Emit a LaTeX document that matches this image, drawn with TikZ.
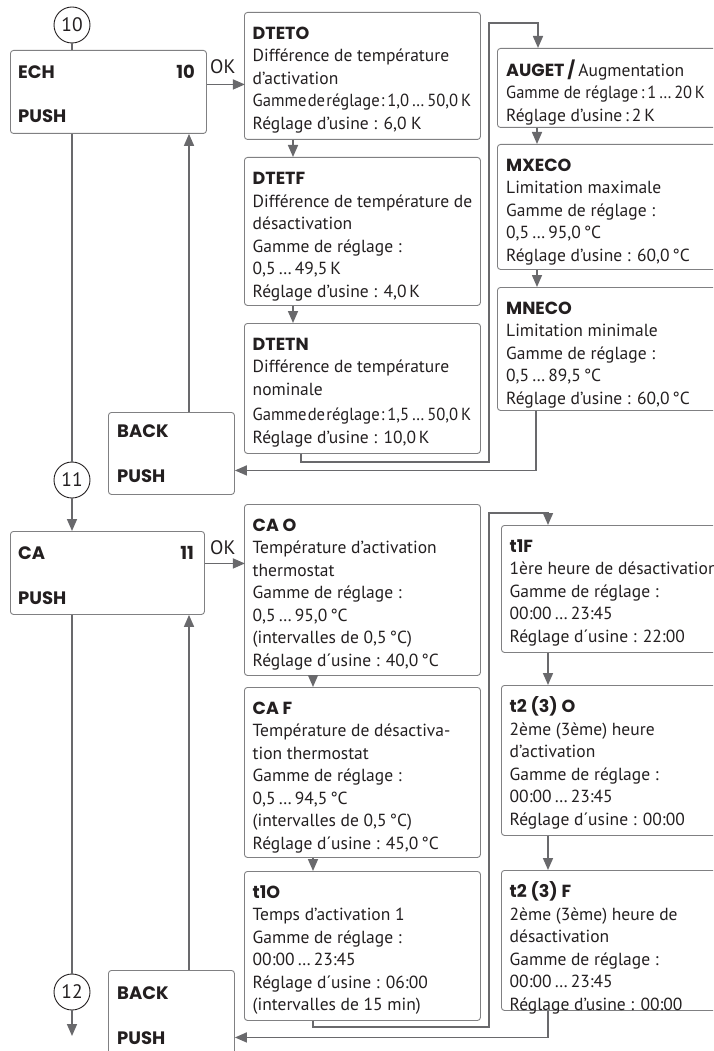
\documentclass[tikz,border=0pt]{standalone}
\usepackage{fontspec}
\usepackage{graphicx}
\setmainfont{PT Sans}
\newfontfamily\heavyfont{Poppins}
\usetikzlibrary{arrows.meta}
\definecolor{linegray}{RGB}{105,105,108}
\definecolor{boxgray}{RGB}{128,128,130}
\definecolor{textblack}{RGB}{35,31,32}
\newcommand{\squeezed}[1]{\scalebox{0.95}[1]{\spaceskip=1.3pt\relax #1}}
\newcommand{\hd}[1]{{\heavyfont\bfseries\fontsize{17.5pt}{22.5pt}\selectfont #1}}
\tikzset{
  panel/.style={draw=boxgray, line width=0.9pt, rounded corners=3pt, anchor=north west, inner sep=0pt},
  txt/.style={anchor=north west, align=left, inner sep=0pt, font=\fontsize{17.5pt}{22.5pt}\selectfont, text=textblack},
  lbl/.style={inner sep=0pt, font=\heavyfont\bfseries\fontsize{18pt}{22.5pt}\selectfont, text=textblack},
  oklbl/.style={inner sep=0pt, anchor=base west, font=\fontsize{19.5pt}{22.5pt}\selectfont, text=textblack},
  circ/.style={circle, draw=textblack, line width=0.9pt, minimum size=36pt, inner sep=0pt, font=\fontsize{19.5pt}{22.5pt}\selectfont, text=textblack},
  conn/.style={draw=linegray, line width=1.6pt},
  arr/.style={conn, -{Triangle[length=12pt,width=10pt]}},
}
\begin{document}
\begin{tikzpicture}[x=1pt,y=-1pt]
\useasboundingbox (0,0) rectangle (713,1051);
\clip (0,0) rectangle (713,1051);

% ---------- section 10 ----------
\node[circ] (c10) at (72,25) {10};
\node[panel, minimum width=196pt, minimum height=83pt] (ech) at (10,50) {};
\node[lbl, anchor=base west] (echt) at (18,79) {ECH};
\node[lbl, anchor=base east] (echn) at (195,79) {10};
\node[lbl, anchor=base west] (echp) at (18,123) {PUSH};
\node[oklbl] (ok1) at (210,74) {OK};

\node[panel, minimum width=126pt, minimum height=82pt] (back1) at (108,412) {};
\node[lbl, anchor=base west] (back1t) at (117,437) {BACK};
\node[lbl, anchor=base west] (back1p) at (117,482) {PUSH};

\node[panel, minimum width=236pt, minimum height=127pt] (dteto) at (244,12) {};
\node[txt] (dtetot) at ([shift={(8.5pt,-11.5pt)}]dteto.north west) {\strut\hd{DTETO}\\
Différence de température\\
d’activation\\
\squeezed{Gamme de réglage : 1,0\,…\,50,0\,K}\\
Réglage d’usine : 6,0 K};

\node[panel, minimum width=236pt, minimum height=148pt] (dtetf) at (244,157) {};
\node[txt] (dtetft) at ([shift={(8.5pt,-12pt)}]dtetf.north west) {\strut\hd{DTETF}\\
Différence de température de\\
désactivation\\
Gamme de réglage :\\
0,5\,…\,49,5\,K\\
Réglage d’usine : 4,0\,K};

\node[panel, minimum width=236pt, minimum height=130pt] (dtetn) at (244,323) {};
\node[txt] (dtetnt) at ([shift={(8.5pt,-11.5pt)}]dtetn.north west) {\strut\hd{DTETN}\\
Différence de température\\
nominale\\[3pt]
\squeezed{Gamme de réglage : 1,5\,…\,50,0\,K}\\
Réglage d’usine : 10,0\,K};

\node[panel, minimum width=230pt, minimum height=79pt] (auget) at (497,48) {};
\node[txt] (augett) at ([shift={(9pt,-11.5pt)}]auget.north west) {\strut\hd{AUGET\,/}\,Augmentation\\
\scalebox{0.94}[1]{Gamme de réglage\,:\,1\,…\,20\,K}\\
Réglage d’usine\,:\,2\,K};

\node[panel, minimum width=230pt, minimum height=125pt] (mxeco) at (497,144) {};
\node[txt] (mxecot) at ([shift={(9pt,-11.5pt)}]mxeco.north west) {\strut\hd{MXECO}\\
Limitation maximale\\
Gamme de réglage :\\
0,5\,…\,95,0\,°C\\
Réglage d’usine : 60,0\,°C};

\node[panel, minimum width=230pt, minimum height=123pt] (mneco) at (497,287) {};
\node[txt] (mnecot) at ([shift={(9pt,-11.5pt)}]mneco.north west) {\strut\hd{MNECO}\\
Limitation minimale\\
Gamme de réglage :\\
0,5\,…\,89,5\,°C\\
Réglage d’usine : 60,0\,°C};

% connectors section 10
\draw[conn] (c10.south) -- (c10.south |- ech.north);
\draw[arr] (ech.east) ++(0,-7.5) -- ++(38,0);
\coordinate (l1a) at (489,462);
\coordinate (l1b) at (489,23);
\draw[arr] ([xshift=49pt]dteto.south west) -- ([xshift=49pt]dteto.south west |- dtetf.north);
\draw[arr] ([xshift=49pt]dtetf.south west) -- ([xshift=49pt]dtetf.south west |- dtetn.north);
\draw[arr] ([xshift=57pt]dtetn.south west) |- (l1a) -- (l1b) -| ([xshift=41pt]auget.north west);
\draw[arr] ([xshift=40pt]auget.south west) -- ([xshift=40pt]auget.south west |- mxeco.north);
\draw[arr] ([xshift=40pt]mxeco.south west) -- ([xshift=40pt]mxeco.south west |- mneco.north);
\draw[arr] ([xshift=39pt]mneco.south west) |- ([yshift=-17pt]back1.east);
\draw[arr] ([xshift=81pt]back1.north west) -- ([xshift=81pt]back1.north west |- ech.south);

% ---------- section 11 ----------
\node[circ] (c11) at (72,480) {11};
\node[panel, minimum width=194pt, minimum height=83pt] (ca) at (10,531) {};
\node[lbl, anchor=base west] (cat) at (18,559) {CA};
\node[lbl, anchor=base east] (can) at (194,559) {11};
\node[lbl, anchor=base west] (cap) at (18,604) {PUSH};
\node[oklbl] (ok2) at (210,554) {OK};

\node[panel, minimum width=126pt, minimum height=84pt] (back2) at (108,970) {};
\node[lbl, anchor=base west] (back2t) at (117,999) {BACK};
\node[lbl, anchor=base west] (back2p) at (117,1044) {PUSH};

\node[circ] (c12) at (72,992) {12};
\coordinate (c12end) at (72,1036);

\node[panel, minimum width=236pt, minimum height=171pt] (cao) at (244,504) {};
\node[txt] (caot) at ([shift={(8.5pt,-11.5pt)}]cao.north west) {\strut\hd{CA O}\\
Température d’activation\\
thermostat\\
Gamme de réglage :\\
0,5\,…\,95,0\,°C\\
(intervalles de 0,5\,°C)\\
Réglage d´usine : 40,0\,°C};

\node[panel, minimum width=236pt, minimum height=170pt] (caf) at (244,687) {};
\node[txt] (caft) at ([shift={(8.5pt,-11.5pt)}]caf.north west) {\strut\hd{CA F}\\
Température de désactiva-\\
tion thermostat\\
Gamme de réglage :\\
0,5\,…\,94,5\,°C\\
(intervalles de 0,5\,°C)\\
Réglage d´usine : 45,0\,°C};

\node[panel, minimum width=236pt, minimum height=149pt] (t1o) at (244,871) {};
\node[txt] (t1ot) at ([shift={(8.5pt,-11.5pt)}]t1o.north west) {\strut\hd{t1O}\\
Temps d’activation 1\\
Gamme de réglage :\\
00:00\,…\,23:45\\
Réglage d´usine : 06:00\\
(intervalles de 15 min)};

\node[panel, minimum width=226pt, minimum height=127pt] (t1f) at (501,525) {};
\node[txt] (t1ft) at ([shift={(8.5pt,-11.5pt)}]t1f.north west) {\strut\hd{t1F}\\
1ère heure de désactivation\\
Gamme de réglage :\\
00:00\,…\,23:45\\
Réglage d´usine : 22:00};

\node[panel, minimum width=226pt, minimum height=150pt] (t2o) at (501,685) {};
\node[txt] (t2ot) at ([shift={(8.5pt,-11.5pt)}]t2o.north west) {\strut\hd{t2 (3) O}\\
2ème (3ème) heure\\
d’activation\\
Gamme de réglage :\\
00:00\,…\,23:45\\
Réglage d´usine : 00:00};

\node[panel, minimum width=226pt, minimum height=140pt] (t2f) at (501,870) {};
\node[txt] (t2ft) at ([shift={(8.5pt,-11.5pt)}]t2f.north west) {\strut\hd{t2 (3) F}\\
2ème (3ème) heure de\\
désactivation\\
Gamme de réglage :\\
00:00\,…\,23:45\\
Réglage d’usine : 00:00};

% connectors section 11
\draw[conn] (c10.south |- ech.south) -- (c11.north);
\draw[arr] (c11.south) -- (c11.south |- ca.north);
\draw[arr] (ca.east) ++(0,-9.5) -- ++(40,0);
\draw[conn] (c11.south |- ca.south) -- (c12.north);
\draw[arr] (c12.south) -- (c12end);
\coordinate (l2a) at (489,1027);
\coordinate (l2b) at (489,513);
\draw[arr] ([xshift=69pt]cao.south west) -- ([xshift=69pt]cao.south west |- caf.north);
\draw[arr] ([xshift=69pt]caf.south west) -- ([xshift=69pt]caf.south west |- t1o.north);
\draw[arr] ([xshift=69pt]t1o.south west) |- (l2a) -- (l2b) -| ([xshift=47pt]t1f.north west);
\draw[arr] ([xshift=47pt]t1f.south west) -- ([xshift=47pt]t1f.south west |- t2o.north);
\draw[arr] ([xshift=47pt]t2o.south west) -- ([xshift=47pt]t2o.south west |- t2f.north);
\draw[arr] ([xshift=47pt]t2f.south west) |- ([yshift=-25pt]back2.east);
\draw[arr] ([xshift=81pt]back2.north west) -- ([xshift=81pt]back2.north west |- ca.south);
\end{tikzpicture}
\end{document}
